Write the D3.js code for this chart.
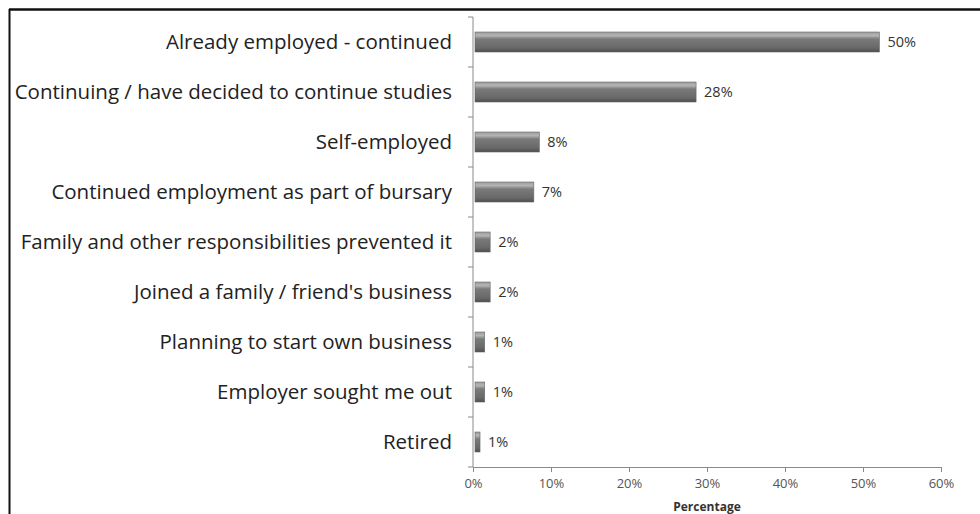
<!DOCTYPE html>
<html>
<head>
<meta charset="utf-8">
<script src="https://cdn.jsdelivr.net/npm/d3@7"></script>
<style>
  body { margin: 0; background: #fff; }
  svg { display: block; }
</style>
</head>
<body>
<div id="chart"></div>
<script>
// categories top to bottom
const categories = [
  "Already employed - continued",
  "Continuing / have decided to continue studies",
  "Self-employed",
  "Continued employment as part of bursary",
  "Family and other responsibilities prevented it",
  "Joined a family / friend's business",
  "Planning to start own business",
  "Employer sought me out",
  "Retired"
];
// bar lengths (percent)
const values = [52.1, 28.6, 8.5, 7.8, 2.2, 2.2, 1.5, 1.5, 0.9];
// printed data labels
const valueLabels = ["50%", "28%", "8%", "7%", "2%", "2%", "1%", "1%", "1%"];
const xTicks = [0, 10, 20, 30, 40, 50, 60];

const width = 980, height = 514;
const margin = {top: 17, left: 473, right: 39, bottom: 47};

const svg = d3.select("#chart").append("svg")
  .attr("width", width)
  .attr("height", height);

// outer frame (top and left edges visible, rest cropped)
svg.append("line")
  .attr("x1", 9).attr("x2", 980)
  .attr("y1", 9.5).attr("y2", 9.5)
  .attr("stroke", "#111")
  .attr("stroke-width", 2.5);
svg.append("line")
  .attr("x1", 9.5).attr("x2", 9.5)
  .attr("y1", 9).attr("y2", 514)
  .attr("stroke", "#111")
  .attr("stroke-width", 2);

const defs = svg.append("defs");
const grad = defs.append("linearGradient")
  .attr("id", "barGrad")
  .attr("x1", 0).attr("y1", 0).attr("x2", 0).attr("y2", 1);
grad.append("stop").attr("offset", "0%").attr("stop-color", "#9c9c9c");
grad.append("stop").attr("offset", "18%").attr("stop-color", "#b4b4b4");
grad.append("stop").attr("offset", "35%").attr("stop-color", "#7a7a7a");
grad.append("stop").attr("offset", "80%").attr("stop-color", "#686868");
grad.append("stop").attr("offset", "100%").attr("stop-color", "#4e4e4e");

const x = d3.scaleLinear()
  .domain([0, 60])
  .range([margin.left, width - margin.right]);

const y = d3.scaleBand()
  .domain(categories)
  .range([margin.top, height - margin.bottom])
  .paddingInner(0.6)
  .paddingOuter(0.3);

const g = svg.append("g");

// bars
g.selectAll(".bar")
  .data(categories)
  .join("rect")
  .attr("class", "bar")
  .attr("x", x(0) + 2)
  .attr("y", d => y(d))
  .attr("width", (d, i) => Math.max(0, x(values[i]) - x(0) - 2))
  .attr("height", y.bandwidth())
  .attr("fill", "url(#barGrad)")
  .attr("stroke", "#666")
  .attr("stroke-width", 0.6);

// data labels
g.selectAll(".vlabel")
  .data(categories)
  .join("text")
  .attr("class", "vlabel")
  .attr("x", (d, i) => x(values[i]) + 8)
  .attr("y", d => y(d) + y.bandwidth() / 2)
  .attr("dy", "0.35em")
  .attr("font-family", "'Open Sans', sans-serif")
  .attr("font-size", 14.5)
  .attr("fill", "#333")
  .text((d, i) => valueLabels[i]);

// category labels
g.selectAll(".clabel")
  .data(categories)
  .join("text")
  .attr("class", "clabel")
  .attr("x", 452)
  .attr("y", d => y(d) + y.bandwidth() / 2)
  .attr("dy", "0.35em")
  .attr("text-anchor", "end")
  .attr("font-family", "'Open Sans', sans-serif")
  .attr("font-size", 20.5)
  .attr("fill", "#222")
  .text(d => d);

// y axis line and ticks at band boundaries
const yTop = margin.top, yBot = height - margin.bottom;
g.append("line")
  .attr("x1", x(0)).attr("x2", x(0))
  .attr("y1", yTop).attr("y2", yBot)
  .attr("stroke", "#8a8a8a");
const step = (yBot - yTop) / categories.length;
g.selectAll(".ytick")
  .data(d3.range(categories.length + 1))
  .join("line")
  .attr("class", "ytick")
  .attr("x1", x(0) - 5).attr("x2", x(0))
  .attr("y1", i => yTop + i * step)
  .attr("y2", i => yTop + i * step)
  .attr("stroke", "#8a8a8a");

// x axis
const xAxis = d3.axisBottom(x)
  .tickValues(xTicks)
  .tickSize(5)
  .tickPadding(7)
  .tickFormat(d => d + "%");
const xAxisG = svg.append("g")
  .attr("transform", `translate(0,${yBot})`)
  .call(xAxis);
xAxisG.select(".domain").attr("stroke", "#8a8a8a");
xAxisG.selectAll(".tick line").attr("stroke", "#8a8a8a");
xAxisG.selectAll(".tick text")
  .attr("font-family", "'Open Sans', sans-serif")
  .attr("font-size", 13)
  .attr("fill", "#555");

svg.append("text")
  .attr("x", (x(0) + x(60)) / 2)
  .attr("y", 511)
  .attr("text-anchor", "middle")
  .attr("font-family", "'Open Sans', sans-serif")
  .attr("font-size", 12)
  .attr("font-weight", "bold")
  .attr("fill", "#333")
  .text("Percentage");
</script>
</body>
</html>
